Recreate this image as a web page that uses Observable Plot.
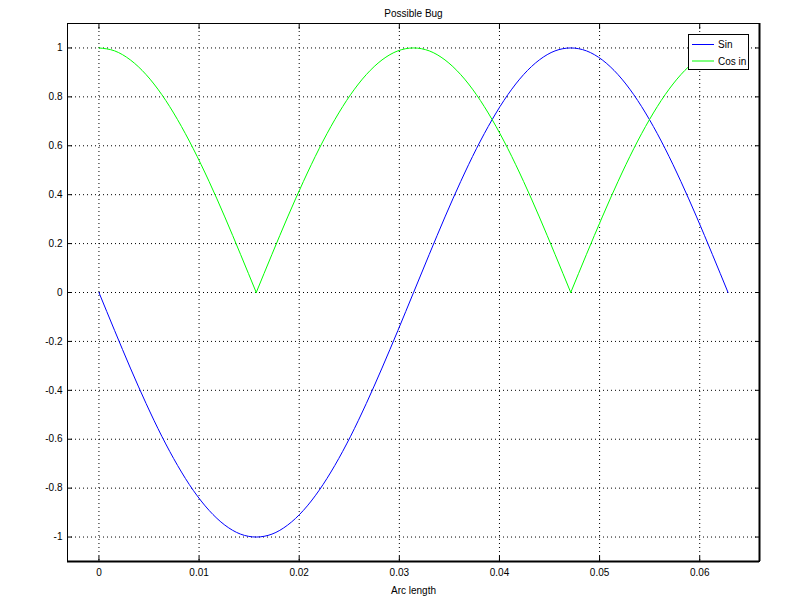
<!DOCTYPE html>
<html>
<head>
<meta charset="utf-8">
<script src="https://cdn.jsdelivr.net/npm/d3@7"></script>
<script src="https://cdn.jsdelivr.net/npm/@observablehq/plot@0.6"></script>
<style>
  html, body { margin: 0; padding: 0; background: #fff; }
  #chart { position: relative; width: 800px; height: 600px; }
</style>
</head>
<body>
<div id="chart"></div>
<script>
const xs = [0, 0.00157, 0.00314, 0.00471, 0.00628, 0.00785, 0.00942, 0.01100, 0.01257, 0.01414,
  0.01571, 0.01728, 0.01885, 0.02042, 0.02199, 0.02356, 0.02513, 0.02670, 0.02827, 0.02985,
  0.03142, 0.03299, 0.03456, 0.03613, 0.03770, 0.03927, 0.04084, 0.04241, 0.04398, 0.04555,
  0.04712, 0.04869, 0.05027, 0.05184, 0.05341, 0.05498, 0.05655, 0.05812, 0.05969, 0.06126, 0.06283];
const sinVals = [0, -0.156, -0.309, -0.454, -0.588, -0.707, -0.809, -0.891, -0.951, -0.988,
  -1, -0.988, -0.951, -0.891, -0.809, -0.707, -0.588, -0.454, -0.309, -0.156,
  0, 0.156, 0.309, 0.454, 0.588, 0.707, 0.809, 0.891, 0.951, 0.988,
  1, 0.988, 0.951, 0.891, 0.809, 0.707, 0.588, 0.454, 0.309, 0.156, 0];
const cosVals = [1, 0.988, 0.951, 0.891, 0.809, 0.707, 0.588, 0.454, 0.309, 0.156,
  0, 0.156, 0.309, 0.454, 0.588, 0.707, 0.809, 0.891, 0.951, 0.988,
  1, 0.988, 0.951, 0.891, 0.809, 0.707, 0.588, 0.454, 0.309, 0.156,
  0, 0.156, 0.309, 0.454, 0.588, 0.707, 0.809, 0.891, 0.951, 0.988, 1];
const seriesNames = ["Sin", "Cos in"];
const seriesColors = ["#0000ff", "#00ff00"];
const xTicks = [0, 0.01, 0.02, 0.03, 0.04, 0.05, 0.06];
const xTickLabels = ["0", "0.01", "0.02", "0.03", "0.04", "0.05", "0.06"];
const yTicks = [-1, -0.8, -0.6, -0.4, -0.2, 0, 0.2, 0.4, 0.6, 0.8, 1];
const yTickLabels = ["-1", "-0.8", "-0.6", "-0.4", "-0.2", "0", "0.2", "0.4", "0.6", "0.8", "1"];
const titleText = "Possible Bug";
const xLabelText = "Arc length";

const sinData = xs.map((x, i) => ({x, y: sinVals[i]}));
// split the |cos| curve at its cusps (zero values) so each arch is smoothed separately
const cosData = [];
let arch = 0;
xs.forEach((x, i) => {
  cosData.push({x, y: cosVals[i], arch});
  if (cosVals[i] === 0 && i > 0 && i < xs.length - 1) {
    arch++;
    cosData.push({x, y: cosVals[i], arch});
  }
});
const xDomain = [-0.00314, 0.06597];
const yDomain = [-1.1, 1.1];
const font = "Liberation Sans, Arial, sans-serif";
const grid = {stroke: "#000", strokeOpacity: 1, strokeDasharray: "1,3", strokeWidth: 1};

const plot = Plot.plot({
  width: 800,
  height: 600,
  marginLeft: 67,
  marginRight: 41,
  marginTop: 23,
  marginBottom: 39,
  style: {fontFamily: font, fontSize: "10px", color: "#000", background: "#fff"},
  x: {domain: xDomain, label: null},
  y: {domain: yDomain, label: null},
  marks: [
    Plot.gridX(xTicks, grid),
    Plot.gridY(yTicks, grid),
    Plot.axisY(yTicks, {anchor: "left", tickSize: 0, tickPadding: 5, tickFormat: d => yTickLabels[yTicks.indexOf(d)], fontSize: 10}),
    Plot.axisY(yTicks, {anchor: "left", tickSize: -5, tickFormat: () => ""}),
    Plot.axisY(yTicks, {anchor: "right", tickSize: -5, tickFormat: () => ""}),
    Plot.axisX(xTicks, {anchor: "bottom", tickSize: 0, tickPadding: 7, tickFormat: d => xTickLabels[xTicks.indexOf(d)], fontSize: 10}),
    Plot.axisX(xTicks, {anchor: "bottom", tickSize: -5, tickFormat: () => ""}),
    Plot.axisX(xTicks, {anchor: "top", tickSize: -5, tickFormat: () => ""}),
    Plot.lineY(sinData, {x: "x", y: "y", stroke: seriesColors[0], strokeWidth: 1, curve: "monotone-x"}),
    Plot.lineY(cosData, {x: "x", y: "y", z: "arch", stroke: seriesColors[1], strokeWidth: 1, curve: "monotone-x"}),
    Plot.frame({stroke: "#000", strokeWidth: 1}),
    Plot.ruleY([yDomain[0]], {stroke: "#000", strokeWidth: 2}),
    Plot.ruleX([xDomain[1]], {stroke: "#000", strokeWidth: 2}),
    Plot.text([titleText], {frameAnchor: "top", dy: -10, text: d => d, fontSize: 10, lineAnchor: "middle"}),
    Plot.text([xLabelText], {frameAnchor: "bottom", dy: 29, text: d => d, fontSize: 10, lineAnchor: "middle"})
  ]
});

document.getElementById("chart").appendChild(plot);

// Legend box (drawn into the same SVG)
const svg = d3.select(plot);
const lg = svg.append("g").attr("font-family", font).attr("font-size", 10).attr("text-anchor", "start");
lg.append("rect").attr("x", 688.5).attr("y", 34.5).attr("width", 60).attr("height", 35)
  .attr("fill", "#fff").attr("stroke", "#000").attr("stroke-width", 1);
seriesNames.forEach((name, i) => {
  const yy = 44.5 + i * 16.5;
  lg.append("line").attr("x1", 692).attr("x2", 714).attr("y1", yy).attr("y2", yy)
    .attr("stroke", seriesColors[i]).attr("stroke-width", 1);
  lg.append("text").attr("x", 718).attr("y", yy).attr("dy", "0.35em").attr("text-anchor", "start").text(name);
});
</script>
</body>
</html>
